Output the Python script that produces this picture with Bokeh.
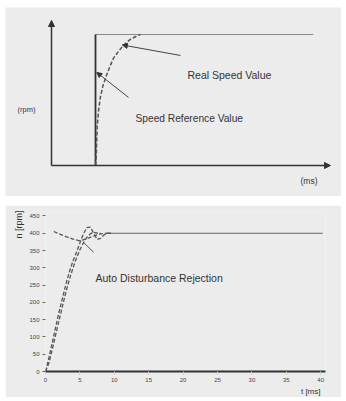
from bokeh.plotting import figure
from bokeh.models import Range1d, Arrow, NormalHead, Label, FixedTicker, Title
from bokeh.embed import file_html
from bokeh.resources import INLINE

# ---------- top schematic data ----------
step_t = [1.0, 1.0]
step_v = [0.0, 1.0]
level_t = [1.0, 5.95]
level_v = [1.0, 1.0]
real_t = [1.0, 1.015, 1.038, 1.07, 1.11, 1.17, 1.23, 1.32, 1.41, 1.52, 1.64, 1.8, 1.95, 2.02]
real_v = [0.0, 0.05, 0.29, 0.42, 0.52, 0.61, 0.67, 0.75, 0.82, 0.87, 0.92, 0.965, 0.99, 1.0]
top_labels = ["Real Speed Value", "Speed Reference Value", "(rpm)", "(ms)"]

# ---------- bottom chart data ----------
n1_t = [0, 0.5, 1, 1.5, 2, 2.5, 3, 3.5, 4, 4.5, 5, 5.5, 6, 6.5, 7, 7.5, 8, 8.5, 9, 9.5]
n1_v = [0, 40, 85, 130, 175, 215, 255, 290, 320, 345, 372, 398, 416, 418, 400, 382, 385, 395, 400, 400]
n2_t = [0, 0.5, 1, 1.5, 2, 2.5, 3, 3.5, 4, 4.5, 5, 5.5, 6, 6.5, 7, 7.5, 8]
n2_v = [0, 25, 65, 108, 150, 192, 232, 268, 300, 328, 352, 372, 388, 398, 403, 400, 400]
dist_t = [1.2, 2, 3, 4, 5, 6, 7, 8, 9]
dist_v = [405, 398, 390, 383, 378, 384, 392, 398, 400]
set_t = [9.0, 40.3]
set_v = [400, 400]
ptr_t = [5.5, 7.0]
ptr_v = [374, 345]
x_ticks = [0, 5, 10, 15, 20, 25, 30, 35, 40]
y_ticks = [0, 50, 100, 150, 200, 250, 300, 350, 400, 450]

BG = "#ececec"
DARK = "#333333"
FONT = "Liberation Sans"

# ---------- top figure ----------
top = figure(width=336, height=189, output_backend="svg", toolbar_location=None,
             x_axis_type=None, y_axis_type=None, title=None,
             x_range=Range1d(-1.0455, 6.591), y_range=Range1d(-0.2366, 1.206),
             min_border=0, min_border_left=0, min_border_right=0,
             min_border_top=0, min_border_bottom=0,
             background_fill_color=BG, border_fill_color=BG, outline_line_color=None,
             margin=(7, 5, 0, 5))
top.xgrid.visible = False
top.ygrid.visible = False

top.add_layout(Arrow(end=NormalHead(size=6, fill_color=DARK, line_color=DARK),
                     x_start=0, y_start=0, x_end=0, y_end=1.107,
                     line_color=DARK, line_width=1.5))
top.add_layout(Arrow(end=NormalHead(size=6, fill_color=DARK, line_color=DARK),
                     x_start=0, y_start=0, x_end=6.34, y_end=0,
                     line_color=DARK, line_width=1.5))
top.line(level_t, level_v, line_color="#8a8a8a", line_width=1.2)
top.line(step_t, step_v, line_color=DARK, line_width=1.8)
top.line(real_t, real_v, line_color="#555555", line_width=1.5, line_dash="4 2")
top.add_layout(Arrow(end=NormalHead(size=5, fill_color=DARK, line_color=DARK),
                     x_start=2.93, y_start=0.84, x_end=1.61, y_end=0.92,
                     line_color="#444444", line_width=1))
top.add_layout(Arrow(end=NormalHead(size=5, fill_color=DARK, line_color=DARK),
                     x_start=1.75, y_start=0.52, x_end=1.03, y_end=0.71,
                     line_color="#444444", line_width=1))
top.add_layout(Label(x=3.09, y=0.687, text=top_labels[0], text_font=FONT,
                     text_font_size="10.5px", text_color=DARK, text_baseline="middle"))
top.add_layout(Label(x=1.91, y=0.359, text=top_labels[1], text_font=FONT,
                     text_font_size="10.2px", text_color=DARK, text_baseline="middle"))
top.add_layout(Label(x=-0.77, y=0.43, text=top_labels[2], text_font=FONT,
                     text_font_size="7.5px", text_color=DARK, text_baseline="middle"))
top.add_layout(Label(x=5.66, y=-0.115, text=top_labels[3], text_font=FONT,
                     text_font_size="8.5px", text_color=DARK, text_baseline="middle"))

# ---------- bottom figure ----------
bot = figure(width=336, height=192, output_backend="svg", toolbar_location=None,
             title=None,
             x_range=Range1d(0, 40.7), y_range=Range1d(0, 460),
             min_border_left=40, min_border_right=16, min_border_top=7, min_border_bottom=26,
             background_fill_color=BG, border_fill_color=BG, outline_line_color=None,
             margin=(9, 5, 0, 5))
bot.xgrid.visible = False
bot.ygrid.visible = False
bot.xaxis.ticker = FixedTicker(ticks=x_ticks)
bot.yaxis.ticker = FixedTicker(ticks=y_ticks)
for ax in (bot.xaxis[0], bot.yaxis[0]):
    ax.major_label_text_font = FONT
    ax.major_label_text_font_size = "6px"
    ax.major_label_text_color = "#444444"
    ax.major_tick_in = 0
    ax.major_tick_out = 3
    ax.minor_tick_line_color = None
    ax.major_label_standoff = 3
bot.xaxis.axis_line_color = DARK
bot.xaxis.axis_line_width = 2
bot.xaxis.major_tick_line_color = "#cccccc"
bot.yaxis.axis_line_color = None
bot.yaxis.major_tick_line_color = "#666666"

bot.add_layout(Title(text="t [ms]", align="right", text_font=FONT, text_font_size="8px",
                     text_color=DARK, text_font_style="normal", standoff=0, offset=5), "below")
bot.add_layout(Title(text="n [rpm]", align="right", text_font=FONT, text_font_size="9px",
                     text_color=DARK, text_font_style="normal", standoff=5, offset=-2), "left")

bot.line(set_t, set_v, line_color="#666666", line_width=1.2)
bot.line(n2_t, n2_v, line_color="#555555", line_width=1.3, line_dash="4 2")
bot.line(n1_t, n1_v, line_color="#555555", line_width=1.3, line_dash="4 2")
bot.line(dist_t, dist_v, line_color="#555555", line_width=1.3, line_dash="4 2")
bot.line(ptr_t, ptr_v, line_color="#555555", line_width=1)

bot.add_layout(Label(x=7.27, y=270, text="Auto Disturbance Rejection", text_font=FONT,
                     text_font_size="10.5px", text_color=DARK, text_baseline="middle"))

open("out.html", "w").write(file_html([top, bot], INLINE))
